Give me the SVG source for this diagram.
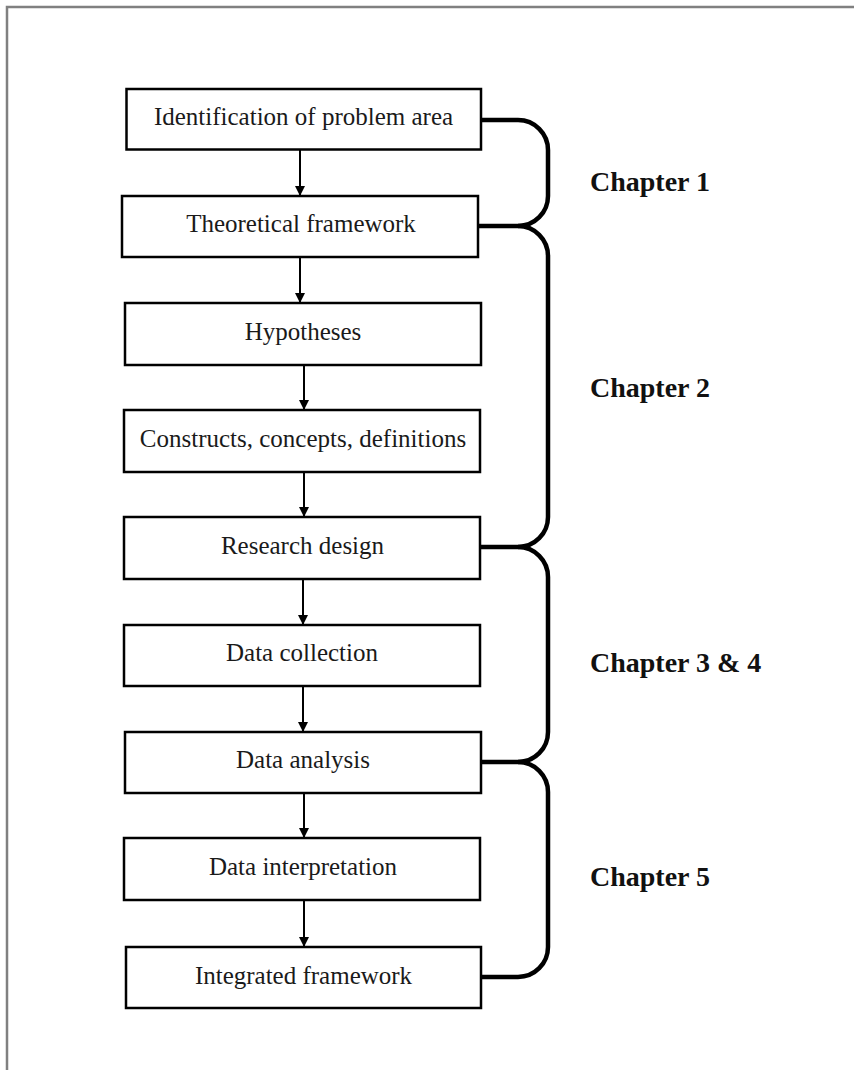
<svg xmlns="http://www.w3.org/2000/svg" width="854" height="1070" viewBox="0 0 854 1070">
  <style>
    .box rect { fill: #ffffff; stroke: #000000; stroke-width: 2.5; }
    .box text { font-family: "Liberation Serif", "Times New Roman", serif; font-size: 25px; fill: #1a1a1a; text-anchor: middle; }
    .flow { stroke: #000000; stroke-width: 2; fill: none; }
    .brace { stroke: #000000; stroke-width: 4.5; fill: none; stroke-linejoin: round; }
    .chapter { font-family: "Liberation Serif", "Times New Roman", serif; font-size: 28px; font-weight: bold; fill: #111111; }
    .frame { stroke: #808080; stroke-width: 2.5; fill: none; }
  </style>
  <defs>
    <marker id="arrowhead" markerUnits="userSpaceOnUse" markerWidth="12" markerHeight="10" refX="10" refY="5" orient="auto">
      <path d="M0,0 L10,5 L0,10 Z" fill="#000000"/>
    </marker>
  </defs>

  <rect width="854" height="1070" fill="#ffffff"/>

  <!-- page frame (top and left edges) -->
  <path class="frame" d="M7,1070 V7 H854"/>

  <!-- process steps -->
  <g id="identification" class="box">
    <rect x="126.5" y="89" width="354.5" height="60.5"/>
    <text x="303.5" y="125">Identification of problem area</text>
  </g>
  <g id="theoretical-framework" class="box">
    <rect x="122" y="196" width="356" height="61"/>
    <text x="301" y="232">Theoretical framework</text>
  </g>
  <g id="hypotheses" class="box">
    <rect x="125" y="303" width="356" height="62"/>
    <text x="303" y="340">Hypotheses</text>
  </g>
  <g id="constructs" class="box">
    <rect x="124" y="410" width="356" height="62"/>
    <text x="303" y="447">Constructs, concepts, definitions</text>
  </g>
  <g id="research-design" class="box">
    <rect x="124" y="517" width="356" height="62"/>
    <text x="302.5" y="553.5">Research design</text>
  </g>
  <g id="data-collection" class="box">
    <rect x="124" y="625" width="356" height="61"/>
    <text x="302" y="660.5">Data collection</text>
  </g>
  <g id="data-analysis" class="box">
    <rect x="125" y="732" width="356" height="61"/>
    <text x="303" y="768">Data analysis</text>
  </g>
  <g id="data-interpretation" class="box">
    <rect x="124" y="838" width="356" height="62"/>
    <text x="303" y="875">Data interpretation</text>
  </g>
  <g id="integrated-framework" class="box">
    <rect x="126" y="947" width="355" height="61"/>
    <text x="303.5" y="983.5">Integrated framework</text>
  </g>

  <!-- connectors between steps -->
  <g id="connectors">
    <line class="flow" x1="300" y1="150" x2="300" y2="196" marker-end="url(#arrowhead)"/>
    <line class="flow" x1="300" y1="257" x2="300" y2="303" marker-end="url(#arrowhead)"/>
    <line class="flow" x1="304" y1="365" x2="304" y2="410" marker-end="url(#arrowhead)"/>
    <line class="flow" x1="304" y1="472" x2="304" y2="517" marker-end="url(#arrowhead)"/>
    <line class="flow" x1="303" y1="579" x2="303" y2="625" marker-end="url(#arrowhead)"/>
    <line class="flow" x1="303" y1="686" x2="303" y2="732" marker-end="url(#arrowhead)"/>
    <line class="flow" x1="304" y1="793" x2="304" y2="838" marker-end="url(#arrowhead)"/>
    <line class="flow" x1="304" y1="900" x2="304" y2="947" marker-end="url(#arrowhead)"/>
  </g>

  <!-- chapter braces -->
  <g id="braces">
    <path class="brace" d="M481,120 H518 A30,30 0 0 1 548,150 V196 A30,30 0 0 1 518,226 H478"/>
    <path class="brace" d="M518,226 A30,30 0 0 1 548,256 V517 A30,30 0 0 1 518,547 H480"/>
    <path class="brace" d="M518,547 A30,30 0 0 1 548,577 V732 A30,30 0 0 1 518,762 H481"/>
    <path class="brace" d="M518,762 A30,30 0 0 1 548,792 V947 A30,30 0 0 1 518,977 H481"/>
  </g>

  <!-- chapter labels -->
  <g id="chapter-labels">
    <text class="chapter" x="590" y="191">Chapter 1</text>
    <text class="chapter" x="590" y="397">Chapter 2</text>
    <text class="chapter" x="590" y="672">Chapter 3 &amp; 4</text>
    <text class="chapter" x="590" y="886">Chapter 5</text>
  </g>
</svg>
